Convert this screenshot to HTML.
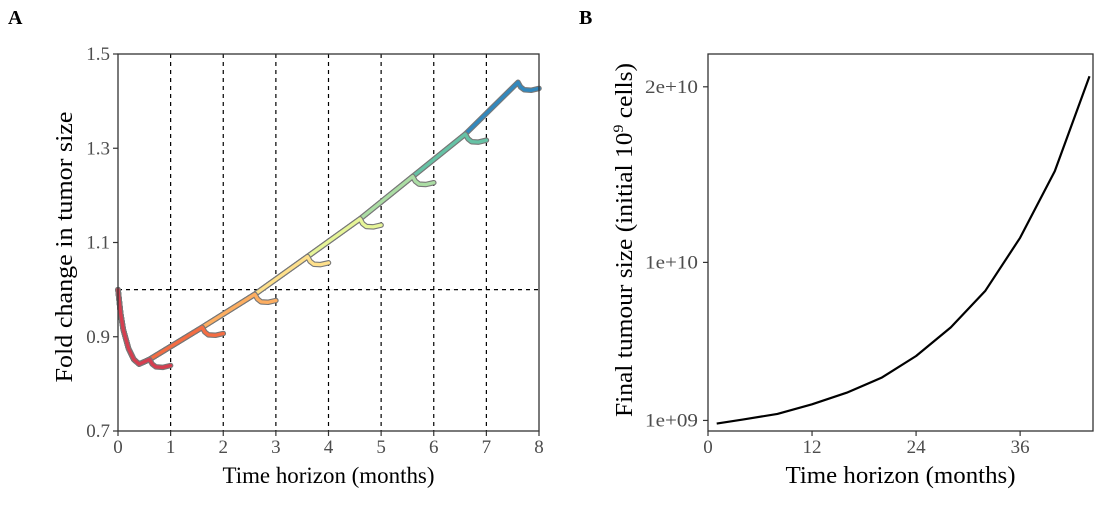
<!DOCTYPE html>
<html><head><meta charset="utf-8">
<style>
body{margin:0;background:#fff;}
svg text{font-family:"Liberation Serif",serif;}
</style></head>
<body>
<svg width="1114" height="526" viewBox="0 0 1114 526" xmlns="http://www.w3.org/2000/svg">
<g id="panelA"></g>
<g id="panelB"></g>
<text x="8" y="24" font-size="20" font-weight="bold">A</text>
<text x="579" y="24" font-size="20" font-weight="bold">B</text>
</svg>
<script>
// Panel A data
const mainTimes = [0,0.05,0.1,0.2,0.3,0.4,0.6,1.6,2.6,3.6,4.6,5.6,6.6,7.6];
const mainVals  = [1.0,0.95,0.915,0.875,0.852,0.842,0.852,0.92,0.99,1.07,1.15,1.24,1.33,1.44];
const horizons = [1,2,3,4,5,6,7,8];
const hookTimes = [0,0.05,0.12,0.25,0.4];
const hookOffsets = [0,-0.01,-0.016,-0.017,-0.013];
const colors = ["#d53e4f","#f46d43","#fdae61","#fee08b","#e6f598","#abdda4","#66c2a5","#3288bd"];
const xTicksA = [0,1,2,3,4,5,6,7,8];
const yTicksA = [0.7,0.9,1.1,1.3,1.5];
// Panel B data
const bTimes = [1,4,8,12,16,20,24,28,32,36,40,44];
const bVals = [0.82e9,1.05e9,1.37e9,1.92e9,2.58e9,3.43e9,4.67e9,6.3e9,8.39e9,11.4e9,15.2e9,20.6e9];
const xTicksB = [0,12,24,36];
const yTicksB = [1e9,1e10,2e10];
const yTickLabelsB = ["1e+09","1e+10","2e+10"];

const NS="http://www.w3.org/2000/svg";
function mk(parent,tag,attrs){const e=document.createElementNS(NS,tag);for(const k in attrs)e.setAttribute(k,attrs[k]);parent.appendChild(e);return e;}

// ---- Panel A ----
const A=document.getElementById('panelA');
const ax0=118,ax1=539,ay0=54,ay1=431;
const xA=t=>ax0+(t-0)/(8-0)*(ax1-ax0);
const yA=v=>ay1-(v-0.7)/(1.5-0.7)*(ay1-ay0);
function mainAt(t){for(let i=1;i<mainTimes.length;i++){if(t<=mainTimes[i]){const f=(t-mainTimes[i-1])/(mainTimes[i]-mainTimes[i-1]);return mainVals[i-1]+f*(mainVals[i]-mainVals[i-1]);}}return mainVals[mainVals.length-1];}
let el=mk(A,'line',{x1:ax0,x2:ax1,y1:yA(1.0),y2:yA(1.0),stroke:'#000','stroke-width':1.2,'stroke-dasharray':'4,4'});


for(let k=1;k<=7;k++){
  el=mk(A,'line',{x1:xA(k),x2:xA(k),y1:ay0,y2:ay1,stroke:'#000','stroke-width':1.2,'stroke-dasharray':'4,4'});
  
  
}
for(let i=horizons.length-1;i>=0;i--){
  const k=horizons[i];const peak=k-0.4;
  const pts=[];
  mainTimes.forEach((t,j)=>{if(t<peak)pts.push([t,mainVals[j]]);});
  const pv=mainAt(peak);
  hookTimes.forEach((h,j)=>pts.push([peak+h,pv+hookOffsets[j]]));
  const d='M'+pts.map(p=>xA(p[0]).toFixed(1)+','+yA(p[1]).toFixed(1)).join('L');
  el=mk(A,'path',{d:d,fill:'none',stroke:'#777','stroke-width':5.5,'stroke-linejoin':'round','stroke-linecap':'round'});
  
  
  el=mk(A,'path',{d:d,fill:'none',stroke:colors[i],'stroke-width':3.3,'stroke-linejoin':'round','stroke-linecap':'round'});
  
  
}
el=mk(A,'rect',{x:ax0,y:ay0,width:ax1-ax0,height:ay1-ay0,fill:'none',stroke:'#333','stroke-width':1.3});


xTicksA.forEach(t=>{
  el=mk(A,'line',{x1:xA(t),x2:xA(t),y1:ay1,y2:ay1+5,stroke:'#333','stroke-width':1.2});
  
  
  el=mk(A,'text',{x:xA(t),y:ay1+22,'font-size':19,fill:'#4d4d4d','text-anchor':'middle'});el.textContent=t;
  
  
});
yTicksA.forEach(v=>{
  el=mk(A,'line',{x1:ax0-5,x2:ax0,y1:yA(v),y2:yA(v),stroke:'#333','stroke-width':1.2});
  
  
  el=mk(A,'text',{x:ax0-8,y:yA(v)+6,'font-size':19,fill:'#4d4d4d','text-anchor':'end'});el.textContent=v.toFixed(1);
  
  
});
el=mk(A,'text',{x:(ax0+ax1)/2,y:483,'font-size':23,'text-anchor':'middle',textLength:212,lengthAdjust:'spacingAndGlyphs'});el.textContent='Time horizon (months)';


el=mk(A,'text',{x:0,y:0,'font-size':24,'text-anchor':'middle',textLength:271,lengthAdjust:'spacingAndGlyphs',transform:`translate(72,247) rotate(-90)`});el.textContent='Fold change in tumor size';



// ---- Panel B ----
const B=document.getElementById('panelB');
const bx0=708,bx1=1093,by0=54,by1=431;
const xB=t=>708+t*8.67;
const yB=v=>438-v/1e10*175.6;
const dB='M'+bTimes.map((t,i)=>xB(t).toFixed(1)+','+yB(bVals[i]).toFixed(1)).join('L');
el=mk(B,'path',{d:dB,fill:'none',stroke:'#000','stroke-width':2.2,'stroke-linejoin':'round'});


el=mk(B,'rect',{x:bx0,y:by0,width:bx1-bx0,height:by1-by0,fill:'none',stroke:'#333','stroke-width':1.3});


xTicksB.forEach(t=>{
  el=mk(B,'line',{x1:xB(t),x2:xB(t),y1:by1,y2:by1+5,stroke:'#333','stroke-width':1.2});
  
  
  el=mk(B,'text',{x:xB(t),y:by1+22,'font-size':19,fill:'#4d4d4d','text-anchor':'middle'});el.textContent=t;
  
  
});
yTicksB.forEach((v,i)=>{
  el=mk(B,'line',{x1:bx0-5,x2:bx0,y1:yB(v),y2:yB(v),stroke:'#333','stroke-width':1.2});
  
  
  el=mk(B,'text',{x:bx0-10,y:yB(v)+6,'font-size':19,fill:'#4d4d4d','text-anchor':'end',textLength:53,lengthAdjust:'spacingAndGlyphs'});el.textContent=yTickLabelsB[i];
  
  
});
el=mk(B,'text',{x:(bx0+bx1)/2,y:483,'font-size':24,'text-anchor':'middle',textLength:230,lengthAdjust:'spacingAndGlyphs'});el.textContent='Time horizon (months)';


el=mk(B,'text',{x:0,y:0,'font-size':24,'text-anchor':'middle',textLength:354,lengthAdjust:'spacingAndGlyphs',transform:`translate(632,240) rotate(-90)`});
el.innerHTML='Final tumour size (initial 10<tspan dy="-9" font-size="15">9</tspan><tspan dy="9"> cells)</tspan>';


</script>
</body></html>
